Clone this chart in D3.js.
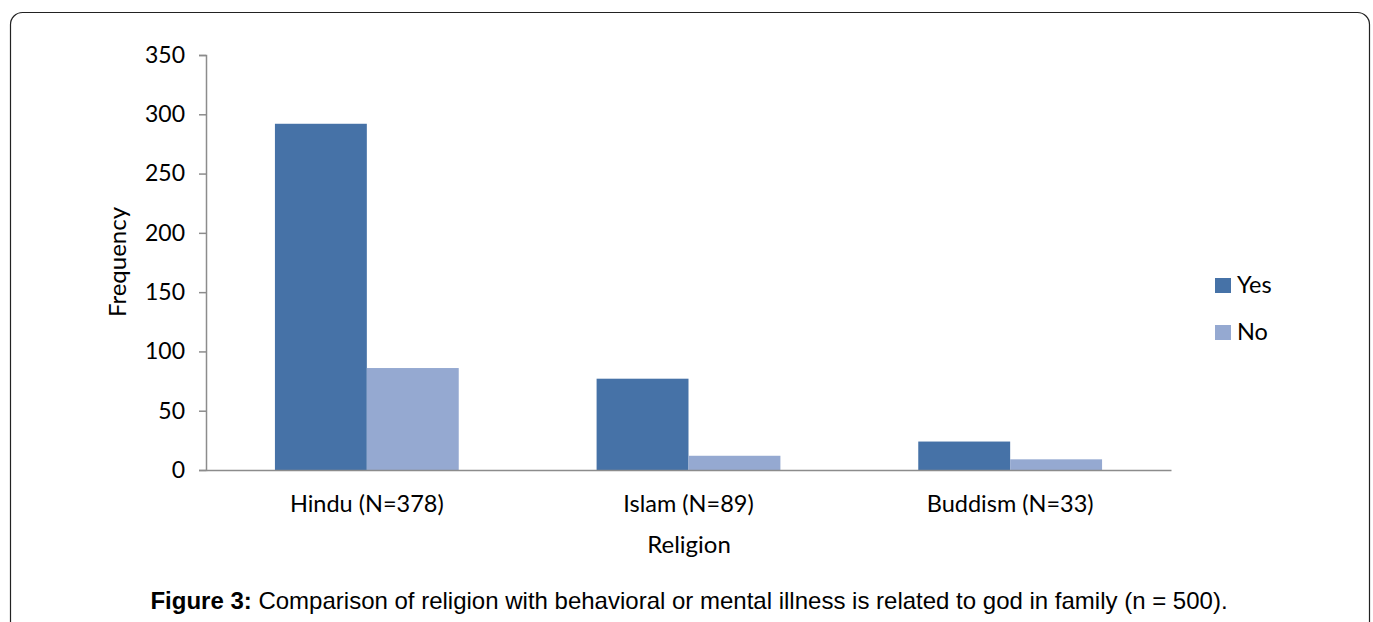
<!DOCTYPE html>
<html>
<head>
<meta charset="utf-8">
<script src="https://cdn.jsdelivr.net/npm/d3@7"></script>
<style>
  html, body { margin: 0; padding: 0; background: #fff; }
  svg { display: block; }
</style>
</head>
<body>
<svg id="chart" width="1373" height="622"></svg>
<script>
// Religion groups and their Yes / No counts
const categories = ["Hindu (N=378)", "Islam (N=89)", "Buddism (N=33)"];
const seriesNames = ["Yes", "No"];
const yesValues = [292, 77, 24];
const noValues = [86, 12, 9];
const yTicks = [0, 50, 100, 150, 200, 250, 300, 350];
const colors = ["#4672a7", "#95a9d1"];

const svg = d3.select("#chart");
const font = "Lato, 'Open Sans', sans-serif";

// outer frame
svg.append("rect")
  .attr("x", 10.5).attr("y", 12.5)
  .attr("width", 1359).attr("height", 640)
  .attr("rx", 12).attr("ry", 12)
  .attr("fill", "none").attr("stroke", "#222").attr("stroke-width", 1.2);

const plot = { left: 206, right: 1171, top: 55, bottom: 470 };

const x0 = d3.scaleBand().domain(categories).range([plot.left, plot.right]).paddingInner(0).paddingOuter(0);
const groupWidth = x0.bandwidth();
const barW = groupWidth / 3.5;
const x1 = d3.scaleBand().domain(seriesNames)
  .range([(groupWidth - 2 * barW) / 2, (groupWidth + 2 * barW) / 2]);
const y = d3.scaleLinear().domain([0, 350]).range([plot.bottom, plot.top]);

const rows = categories.map((c, i) => ({ cat: c, vals: [yesValues[i], noValues[i]] }));

// bars
const groups = svg.append("g").selectAll("g").data(rows).join("g")
  .attr("transform", d => `translate(${x0(d.cat)},0)`);
groups.selectAll("rect")
  .data(d => d.vals.map((v, k) => ({ name: seriesNames[k], v, k })))
  .join("rect")
  .attr("x", d => x1(d.name))
  .attr("width", x1.bandwidth())
  .attr("y", d => y(d.v))
  .attr("height", d => y(0) - y(d.v))
  .attr("fill", d => colors[d.k]);

// y axis
const yAxis = d3.axisLeft(y).tickValues(yTicks).tickSize(7).tickPadding(14).tickFormat(d3.format("d"));
const gy = svg.append("g").attr("transform", `translate(${plot.left},0)`).call(yAxis);
gy.select(".domain").attr("stroke", "#8c8c8c").attr("stroke-width", 1.5);
gy.selectAll(".tick line").attr("stroke", "#8c8c8c").attr("stroke-width", 1.5);
gy.selectAll(".tick text").attr("font-family", font).attr("font-size", 23).attr("fill", "#000");

// x axis
const xAxis = d3.axisBottom(x0).tickSize(0).tickPadding(25);
const gx = svg.append("g").attr("transform", `translate(0,${plot.bottom})`).call(xAxis);
gx.select(".domain").attr("stroke", "#8c8c8c").attr("stroke-width", 1.5);
gx.selectAll(".tick text").attr("font-family", font).attr("font-size", 23.5).attr("fill", "#000");

// axis titles
svg.append("text")
  .attr("transform", `translate(126,262) rotate(-90)`)
  .attr("text-anchor", "middle")
  .attr("font-family", font).attr("font-size", 24).attr("fill", "#000")
  .text("Frequency");
svg.append("text")
  .attr("x", 689).attr("y", 553)
  .attr("text-anchor", "middle")
  .attr("font-family", font).attr("font-size", 24).attr("fill", "#000")
  .text("Religion");

// legend
const legend = svg.append("g").selectAll("g").data(seriesNames).join("g")
  .attr("transform", (d, i) => `translate(1215,${278 + i * 47})`);
legend.append("rect").attr("width", 16).attr("height", 15).attr("fill", (d, i) => colors[i]);
legend.append("text").attr("x", 22).attr("y", 15)
  .attr("font-family", font).attr("font-size", 23.5).attr("fill", "#000")
  .text(d => d);

// caption
const cap = svg.append("text")
  .attr("x", 689).attr("y", 609)
  .attr("text-anchor", "middle")
  .attr("font-family", "'Liberation Sans', Arial, sans-serif").attr("font-size", 24).attr("fill", "#000");
cap.append("tspan").attr("font-weight", "bold").text("Figure 3:");
cap.append("tspan").text(" Comparison of religion with behavioral or mental illness is related to god in family (n = 500).");
</script>
</body>
</html>
